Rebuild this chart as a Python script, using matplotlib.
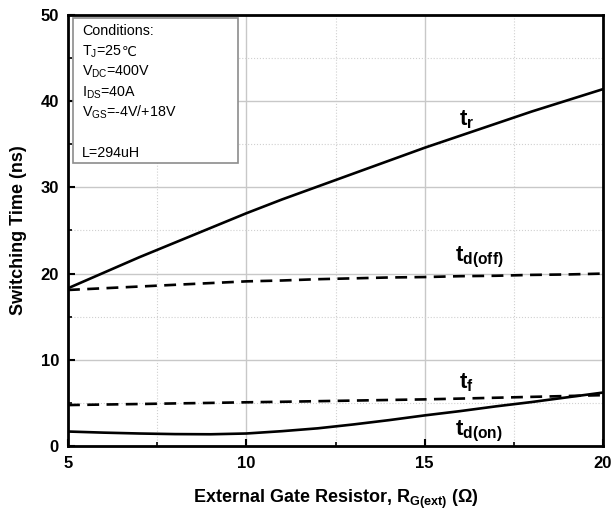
import matplotlib
matplotlib.use("Agg")
import matplotlib.pyplot as plt
from matplotlib.ticker import MultipleLocator
from matplotlib.patches import Rectangle

plt.rcParams['font.family'] = ['Liberation Sans', 'DejaVu Sans']
plt.rcParams['mathtext.fontset'] = 'custom'
plt.rcParams['mathtext.rm'] = 'Liberation Sans'
plt.rcParams['mathtext.bf'] = 'Liberation Sans:bold'
plt.rcParams['mathtext.it'] = 'Liberation Sans:italic'

rg = [5, 6, 7, 8, 9, 10, 11, 12, 13, 14, 15, 16, 17, 18, 19, 20]
t_r = [18.3, 20.1, 21.9, 23.6, 25.3, 27.0, 28.6, 30.1, 31.6, 33.1, 34.6, 36.0, 37.4, 38.8, 40.1, 41.4]
t_doff = [18.1, 18.3, 18.5, 18.7, 18.9, 19.1, 19.2, 19.35, 19.45, 19.55, 19.6, 19.7, 19.75, 19.85, 19.9, 20.0]
t_f = [4.75, 4.81, 4.87, 4.94, 5.0, 5.07, 5.13, 5.2, 5.27, 5.34, 5.41, 5.5, 5.6, 5.7, 5.8, 5.9]
t_don = [1.68, 1.55, 1.45, 1.38, 1.36, 1.45, 1.72, 2.05, 2.5, 3.0, 3.55, 4.05, 4.6, 5.1, 5.65, 6.2]

cond_lines = ["Conditions:", "T$_\\mathrm{J}$=25", "V$_\\mathrm{DC}$=400V",
              "I$_\\mathrm{DS}$=40A", "V$_\\mathrm{GS}$=-4V/+18V", "", "L=294uH"]
cond_unit = "\u2103"

fig = plt.figure(figsize=(6.13, 5.18), dpi=100)
ax = fig.add_axes([68/613, 1 - 446/518, 535/613, 431/518])

lw = 1.9
ax.plot(rg, t_r, color='black', lw=lw)
ax.plot(rg, t_doff, color='black', lw=lw, dashes=(4.5, 2.8))
ax.plot(rg, t_f, color='black', lw=lw, dashes=(4.5, 2.8))
ax.plot(rg, t_don, color='black', lw=lw)

ax.set_xlim(5, 20)
ax.set_ylim(0, 50)
ax.xaxis.set_major_locator(MultipleLocator(5))
ax.xaxis.set_minor_locator(MultipleLocator(2.5))
ax.yaxis.set_major_locator(MultipleLocator(10))
ax.yaxis.set_minor_locator(MultipleLocator(5))
ax.grid(True, which='major', color='#c8c8c8', lw=1.0, ls='-')
ax.grid(True, which='minor', color='#d0d0d0', lw=0.8, ls=':')
ax.set_axisbelow(True)

ax.tick_params(which='major', direction='in', length=5, width=1.5,
               labelsize=12, top=False, right=False)
ax.tick_params(axis='y', which='major', pad=6.5)
ax.tick_params(axis='x', which='major', pad=7)
ax.tick_params(which='minor', direction='in', length=3, width=1.2, top=False, right=False)
for lab in ax.get_xticklabels() + ax.get_yticklabels():
    lab.set_fontweight('bold')
for s in ax.spines.values():
    s.set_linewidth(2.0)

ax.set_xlabel(r'External Gate Resistor, R$_{\mathbf{G(ext)}}$ ($\mathbf{\Omega}$)',
              fontsize=13, fontweight='bold', labelpad=12)
ax.set_ylabel('Switching Time (ns)', fontsize=13, fontweight='bold', labelpad=10)

lab_kw = dict(fontsize=16, ha='left', va='center', color='black')
ax.text(15.95, 37.8, r'$\mathbf{t_r}$', **lab_kw)
ax.text(15.85, 21.9, r'$\mathbf{t_{d(off)}}$', **lab_kw)
ax.text(15.95, 7.4, r'$\mathbf{t_f}$', **lab_kw)
ax.text(15.85, 1.7, r'$\mathbf{t_{d(on)}}$', **lab_kw)

ax.add_patch(Rectangle((0.0093, 0.657), 0.3085, 0.336, transform=ax.transAxes,
                       facecolor='white', edgecolor='#8c8c8c', lw=1.2, zorder=3))
baselines_px = [35, 55.5, 76, 96.3, 116.6, 137, 157.3]
texts = []
for line, bpx in zip(cond_lines, baselines_px):
    yfrac = (446 - bpx) / 431
    t = ax.text(0.026, yfrac, line, transform=ax.transAxes, fontsize=10.3,
                ha='left', va='baseline', zorder=4)
    texts.append((t, yfrac))

fig.canvas.draw()
tj_text, tj_y = texts[1]
bb = tj_text.get_window_extent(renderer=fig.canvas.get_renderer())
x_ax = ax.transAxes.inverted().transform((bb.x1, 0))[0]
ax.text(x_ax, tj_y, cond_unit, transform=ax.transAxes, fontsize=9.5,
        family='DejaVu Sans', ha='left', va='baseline', zorder=4)

fig.savefig('out.png', dpi=100)
